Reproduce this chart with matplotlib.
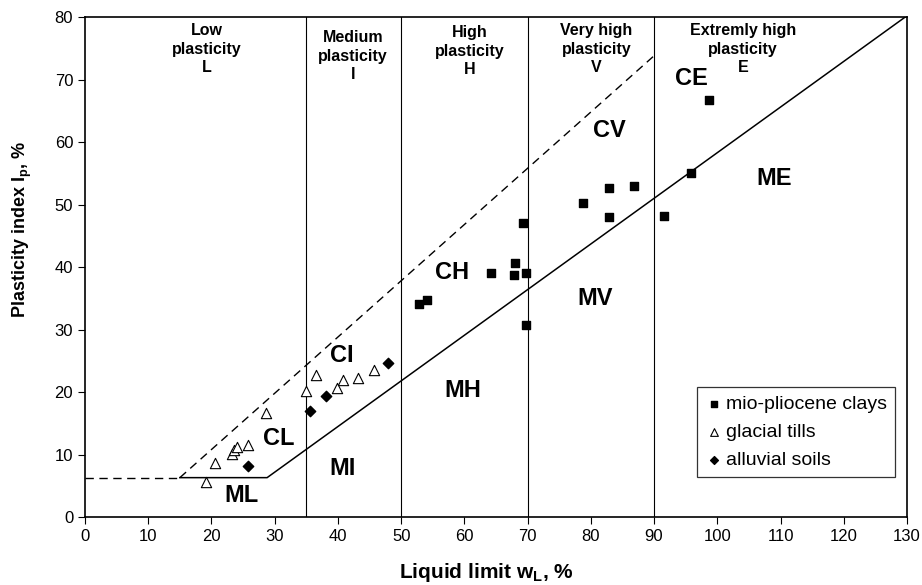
import numpy as np
import matplotlib.pyplot as plt

plt.rcParams['font.family'] = ['Liberation Sans', 'DejaVu Sans']

# mio-pliocene clays (wL, Ip)
clay_wl = [52.8, 54.1, 64.2, 68.0, 67.9, 69.7, 69.3, 69.7, 78.7, 82.8, 82.8, 86.8, 91.5, 95.8, 98.7]
clay_ip = [34.1, 34.8, 39.0, 40.6, 38.8, 39.0, 47.1, 30.7, 50.3, 52.7, 48.0, 53.0, 48.2, 55.0, 66.7]

# glacial tills
till_wl = [19.1, 20.5, 23.2, 23.5, 24.0, 25.7, 28.6, 35.0, 36.5, 39.8, 40.8, 43.1, 45.7]
till_ip = [5.6, 8.6, 10.1, 10.7, 11.2, 11.5, 16.6, 20.2, 22.7, 20.7, 21.9, 22.3, 23.5]

# alluvial soils
alluv_wl = [25.8, 35.6, 38.1, 47.9]
alluv_ip = [8.2, 17.0, 19.3, 24.7]

# boundaries
vlines = [35, 50, 70, 90]
aline_x = [15.0, 28.8, 130]
aline_y = [6.3, 6.3, 80.2]
uline_x = [0, 15.0, 90]
uline_y = [6.3, 6.3, 73.8]

zone_names = ['Low\nplasticity\nL', 'Medium\nplasticity\nI', 'High\nplasticity\nH',
              'Very high\nplasticity\nV', 'Extremly high\nplasticity\nE']
zone_x = [19.3, 42.4, 60.8, 80.9, 104.1]
zone_y = [79.0, 77.9, 78.7, 79.0, 79.0]

region_names = ['ML', 'CL', 'MI', 'CI', 'MH', 'CH', 'MV', 'CV', 'CE', 'ME']
region_x = [24.7, 30.7, 40.7, 40.6, 59.7, 58.1, 80.7, 82.9, 95.9, 109.0]
region_y = [3.5, 12.6, 7.7, 25.9, 20.3, 39.1, 35.0, 61.9, 70.2, 54.2]

fig = plt.figure(figsize=(9.22, 5.85), dpi=100)
ax = fig.add_axes([0.0922, 0.1162, 0.8915, 0.8547])

for v in vlines:
    ax.axvline(v, color='black', lw=0.8)
ax.plot(aline_x, aline_y, color='black', lw=1.1)
ax.plot(uline_x[:2], uline_y[:2], color='black', lw=1.0, ls=(0, (6, 4)))
ax.plot(uline_x[1:], uline_y[1:], color='black', lw=1.0, ls=(0, (6, 4)))

ax.scatter(clay_wl, clay_ip, marker='s', s=30, color='black', label='mio-pliocene clays', zorder=3)
ax.scatter(till_wl, till_ip, marker='^', s=55, facecolor='white', edgecolor='black', lw=0.8,
           label='glacial tills', zorder=3)
ax.scatter(alluv_wl, alluv_ip, marker='D', s=28, color='black', label='alluvial soils', zorder=3)

# zone headers, one line at a time
for name, x, y in zip(zone_names, zone_x, zone_y):
    for i, line in enumerate(name.split('\n')):
        ax.annotate(line, (x, y), xytext=(0, -13.4 * i), textcoords='offset points',
                    ha='center', va='top', fontsize=11.5, fontweight='bold')
for name, x, y in zip(region_names, region_x, region_y):
    ax.text(x, y, name, ha='center', va='center', fontsize=17, fontweight='bold')

ax.set_xlim(0, 130)
ax.set_ylim(0, 80)
ax.set_xticks(np.arange(0, 131, 10))
ax.set_yticks(np.arange(0, 81, 10))
ax.tick_params(direction='out', length=5, labelsize=12)
for s in ax.spines.values():
    s.set_linewidth(1.2)

ax.set_xlabel('Liquid limit w$_\\mathregular{L}$, %', fontsize=15, fontweight='bold')
ax.xaxis.set_label_coords(0.488, -0.088)
ax.set_ylabel('Plasticity index I$_\\mathregular{p}$, %', fontsize=13, fontweight='bold')
ax.yaxis.set_label_coords(-0.062, 0.576)

leg = ax.legend(loc='lower right', bbox_to_anchor=(0.9855, 0.08), fontsize=14, frameon=True,
                fancybox=False, edgecolor='black', handletextpad=0.2, handlelength=0.9,
                borderpad=0.4, borderaxespad=0, labelspacing=0.55, scatterpoints=1, markerscale=0.75)
leg.get_frame().set_linewidth(0.9)

fig.savefig('out.png', dpi=100)
